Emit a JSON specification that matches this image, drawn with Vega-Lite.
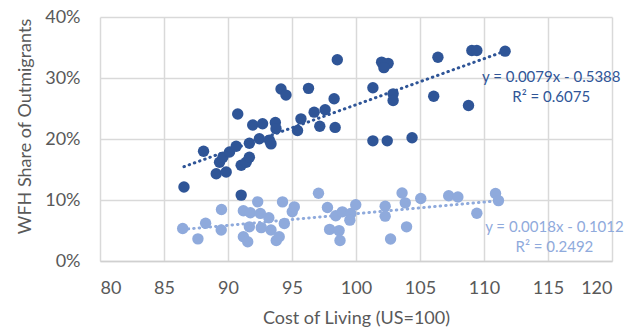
{
  "$schema": "https://vega.github.io/schema/vega-lite/v6.json",
  "width": 512,
  "height": 244,
  "autosize": {"type": "none"},
  "padding": {"left": 100, "top": 17, "right": 25, "bottom": 68},
  "background": "white",
  "config": {
    "view": {"stroke": null},
    "font": "Lato",
    "axis": {
      "gridColor": "#D9D9D9",
      "gridWidth": 1.5,
      "domainColor": "#D0D0D0",
      "domainWidth": 1.5,
      "ticks": false,
      "tickSize": 0,
      "labelColor": "#595959",
      "labelFontSize": 18,
      "labelFont": "Lato",
      "titleColor": "#595959",
      "titleFontSize": 18,
      "titleFont": "Lato",
      "titleFontWeight": "normal"
    }
  },
  "datasets": {
    "pts": [
      {"cost": 86.46, "share": 0.0534, "group": "low"},
      {"cost": 87.65, "share": 0.0363, "group": "low"},
      {"cost": 88.25, "share": 0.062, "group": "low"},
      {"cost": 89.49, "share": 0.0845, "group": "low"},
      {"cost": 89.47, "share": 0.0507, "group": "low"},
      {"cost": 91.2, "share": 0.0825, "group": "low"},
      {"cost": 91.75, "share": 0.079, "group": "low"},
      {"cost": 92.32, "share": 0.097, "group": "low"},
      {"cost": 92.53, "share": 0.078, "group": "low"},
      {"cost": 93.19, "share": 0.071, "group": "low"},
      {"cost": 91.67, "share": 0.056, "group": "low"},
      {"cost": 92.6, "share": 0.0547, "group": "low"},
      {"cost": 93.36, "share": 0.0507, "group": "low"},
      {"cost": 91.2, "share": 0.0397, "group": "low"},
      {"cost": 91.54, "share": 0.0315, "group": "low"},
      {"cost": 93.77, "share": 0.0335, "group": "low"},
      {"cost": 94.0, "share": 0.0397, "group": "low"},
      {"cost": 94.26, "share": 0.0969, "group": "low"},
      {"cost": 94.4, "share": 0.0616, "group": "low"},
      {"cost": 95.02, "share": 0.0806, "group": "low"},
      {"cost": 95.18, "share": 0.0887, "group": "low"},
      {"cost": 97.07, "share": 0.111, "group": "low"},
      {"cost": 97.77, "share": 0.0877, "group": "low"},
      {"cost": 98.42, "share": 0.0743, "group": "low"},
      {"cost": 98.93, "share": 0.0806, "group": "low"},
      {"cost": 99.59, "share": 0.078, "group": "low"},
      {"cost": 99.98, "share": 0.0923, "group": "low"},
      {"cost": 99.52, "share": 0.067, "group": "low"},
      {"cost": 97.94, "share": 0.0518, "group": "low"},
      {"cost": 98.68, "share": 0.0498, "group": "low"},
      {"cost": 98.75, "share": 0.0335, "group": "low"},
      {"cost": 102.28, "share": 0.0899, "group": "low"},
      {"cost": 102.28, "share": 0.0735, "group": "low"},
      {"cost": 103.6, "share": 0.1116, "group": "low"},
      {"cost": 103.85, "share": 0.0953, "group": "low"},
      {"cost": 102.7, "share": 0.036, "group": "low"},
      {"cost": 103.95, "share": 0.056, "group": "low"},
      {"cost": 105.06, "share": 0.1025, "group": "low"},
      {"cost": 107.24, "share": 0.107, "group": "low"},
      {"cost": 107.96, "share": 0.105, "group": "low"},
      {"cost": 109.44, "share": 0.0784, "group": "low"},
      {"cost": 110.9, "share": 0.1106, "group": "low"},
      {"cost": 111.13, "share": 0.099, "group": "low"},
      {"cost": 86.56, "share": 0.1214, "group": "high"},
      {"cost": 88.09, "share": 0.18, "group": "high"},
      {"cost": 89.08, "share": 0.143, "group": "high"},
      {"cost": 89.86, "share": 0.146, "group": "high"},
      {"cost": 89.34, "share": 0.162, "group": "high"},
      {"cost": 89.6, "share": 0.17, "group": "high"},
      {"cost": 90.12, "share": 0.1786, "group": "high"},
      {"cost": 90.64, "share": 0.188, "group": "high"},
      {"cost": 90.76, "share": 0.241, "group": "high"},
      {"cost": 91.03, "share": 0.108, "group": "high"},
      {"cost": 91.03, "share": 0.157, "group": "high"},
      {"cost": 91.42, "share": 0.162, "group": "high"},
      {"cost": 91.67, "share": 0.17, "group": "high"},
      {"cost": 91.67, "share": 0.193, "group": "high"},
      {"cost": 91.93, "share": 0.223, "group": "high"},
      {"cost": 92.7, "share": 0.225, "group": "high"},
      {"cost": 92.45, "share": 0.2005, "group": "high"},
      {"cost": 93.23, "share": 0.198, "group": "high"},
      {"cost": 93.36, "share": 0.192, "group": "high"},
      {"cost": 93.7, "share": 0.227, "group": "high"},
      {"cost": 93.75, "share": 0.217, "group": "high"},
      {"cost": 94.14, "share": 0.282, "group": "high"},
      {"cost": 94.53, "share": 0.272, "group": "high"},
      {"cost": 95.43, "share": 0.214, "group": "high"},
      {"cost": 95.7, "share": 0.233, "group": "high"},
      {"cost": 96.29, "share": 0.283, "group": "high"},
      {"cost": 96.73, "share": 0.244, "group": "high"},
      {"cost": 97.17, "share": 0.221, "group": "high"},
      {"cost": 97.59, "share": 0.248, "group": "high"},
      {"cost": 98.29, "share": 0.266, "group": "high"},
      {"cost": 98.37, "share": 0.219, "group": "high"},
      {"cost": 98.54, "share": 0.33, "group": "high"},
      {"cost": 101.32, "share": 0.284, "group": "high"},
      {"cost": 101.32, "share": 0.197, "group": "high"},
      {"cost": 102.0, "share": 0.326, "group": "high"},
      {"cost": 102.51, "share": 0.324, "group": "high"},
      {"cost": 102.18, "share": 0.317, "group": "high"},
      {"cost": 102.44, "share": 0.197, "group": "high"},
      {"cost": 102.9, "share": 0.274, "group": "high"},
      {"cost": 102.9, "share": 0.263, "group": "high"},
      {"cost": 104.38, "share": 0.202, "group": "high"},
      {"cost": 106.07, "share": 0.27, "group": "high"},
      {"cost": 106.4, "share": 0.334, "group": "high"},
      {"cost": 108.79, "share": 0.255, "group": "high"},
      {"cost": 109.05, "share": 0.345, "group": "high"},
      {"cost": 109.44, "share": 0.345, "group": "high"},
      {"cost": 111.65, "share": 0.344, "group": "high"}
    ],
    "ann": [
      {"cost": 115.25, "share": 0.302, "label": "y = 0.0079x - 0.5388", "group": "high"},
      {"cost": 115.25, "share": 0.2685, "label": "R² = 0.6075", "group": "high"},
      {"cost": 115.5, "share": 0.056, "label": "y = 0.0018x - 0.1012", "group": "low"},
      {"cost": 115.5, "share": 0.0234, "label": "R² = 0.2492", "group": "low"}
    ]
  },
  "layer": [
    {
      "data": {"name": "pts"},
      "transform": [{"regression": "share", "on": "cost", "groupby": ["group"]}],
      "mark": {"type": "line", "strokeDash": [0.5, 5], "strokeCap": "round", "strokeWidth": 3},
      "encoding": {
        "x": {"field": "cost", "type": "quantitative"},
        "y": {"field": "share", "type": "quantitative"},
        "color": {"field": "group", "type": "nominal", "scale": {"domain": ["high", "low"], "range": ["#2F5597", "#8FAADC"]}, "legend": null}
      }
    },
    {
      "data": {"name": "pts"},
      "mark": {"type": "circle", "size": 130, "opacity": 1},
      "encoding": {
        "x": {
          "field": "cost", "type": "quantitative",
          "scale": {"domain": [80, 120], "nice": false, "zero": false},
          "axis": {"values": [80, 85, 90, 95, 100, 105, 110, 115, 120], "title": "Cost of Living (US=100)", "labelPadding": 18, "titleY": 57, "titleBaseline": "middle"}
        },
        "y": {
          "field": "share", "type": "quantitative",
          "scale": {"domain": [0, 0.4], "nice": false},
          "axis": {"values": [0, 0.05, 0.1, 0.15, 0.2, 0.25, 0.3, 0.35, 0.4], "format": ".0%", "title": "WFH Share of Outmigrants", "labelPadding": 20, "titleX": -75, "titleY": 109, "titleAngle": -90, "titleBaseline": "middle", "titleAlign": "center", "domain": false}
        },
        "color": {"field": "group", "type": "nominal", "scale": {"domain": ["high", "low"], "range": ["#2F5597", "#8FAADC"]}, "legend": null}
      }
    },
    {
      "data": {"name": "ann"},
      "mark": {"type": "text", "fontSize": 15, "align": "center", "baseline": "middle", "font": "Lato"},
      "encoding": {
        "x": {"field": "cost", "type": "quantitative"},
        "y": {"field": "share", "type": "quantitative"},
        "text": {"field": "label"},
        "color": {"field": "group", "type": "nominal", "scale": {"domain": ["high", "low"], "range": ["#2F5597", "#8FAADC"]}, "legend": null}
      }
    }
  ]
}
